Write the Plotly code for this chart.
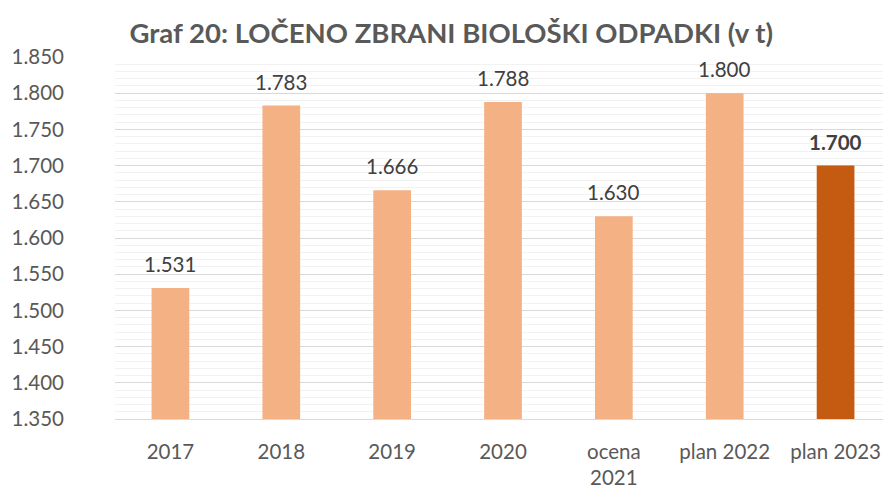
import plotly.graph_objects as go

categories = ["2017", "2018", "2019", "2020", "ocena<br>2021", "plan 2022", "plan 2023"]
values = [1531, 1783, 1666, 1788, 1630, 1800, 1700]
bar_colors = ["#F4B183"] * 6 + ["#C55A11"]
label_texts = ["1.531", "1.783", "1.666", "1.788", "1.630", "1.800", "<b>1.700</b>"]

FONT = "Lato, Carlito, Calibri, sans-serif"
TXT = 20.5

fig = go.Figure()
fig.add_trace(go.Bar(
    x=categories, y=values,
    marker=dict(color=bar_colors, line=dict(width=0)),
    width=0.34,
    hoverinfo="skip",
))

# value labels, positioned at category index (category axis)
for i, (v, t) in enumerate(zip(values, label_texts)):
    fig.add_annotation(x=i, y=v, xref="x", yref="y", text=t, showarrow=False,
                       yanchor="bottom", yshift=10,
                       font=dict(family=FONT, size=TXT, color="#404040"))

# page body has an 8px margin, so the figure is drawn 8px smaller
fig.update_layout(
    width=883, height=480,
    margin=dict(l=107, r=0, t=49, b=69, autoexpand=False),
    paper_bgcolor="white", plot_bgcolor="white",
    separators=",.",
    showlegend=False,
    title=dict(text="<b>Graf 20: LOČENO ZBRANI BIOLOŠKI ODPADKI (v t)</b>",
               x=0.502, xanchor="center", y=0.948, yanchor="middle",
               font=dict(family=FONT, size=27.5, color="#595959")),
    font=dict(family=FONT, color="#595959"),
)
fig.update_yaxes(
    range=[1350, 1850], dtick=50, tickformat=",d",
    showgrid=True, gridcolor="#D9D9D9", gridwidth=1,
    minor=dict(dtick=10, showgrid=True, gridcolor="#F2F2F2", gridwidth=1),
    zeroline=False, showline=False, ticks="",
    tickfont=dict(family=FONT, size=TXT, color="#595959"),
    ticklabelstandoff=50, automargin=False,
)
fig.update_xaxes(
    type="category", range=[-0.5, len(categories) - 0.5],
    showline=True, linecolor="#D9D9D9", linewidth=1, ticks="",
    tickfont=dict(family=FONT, size=TXT, color="#595959"),
    ticklabelstandoff=14, automargin=False,
)

fig.write_html("out.html")
